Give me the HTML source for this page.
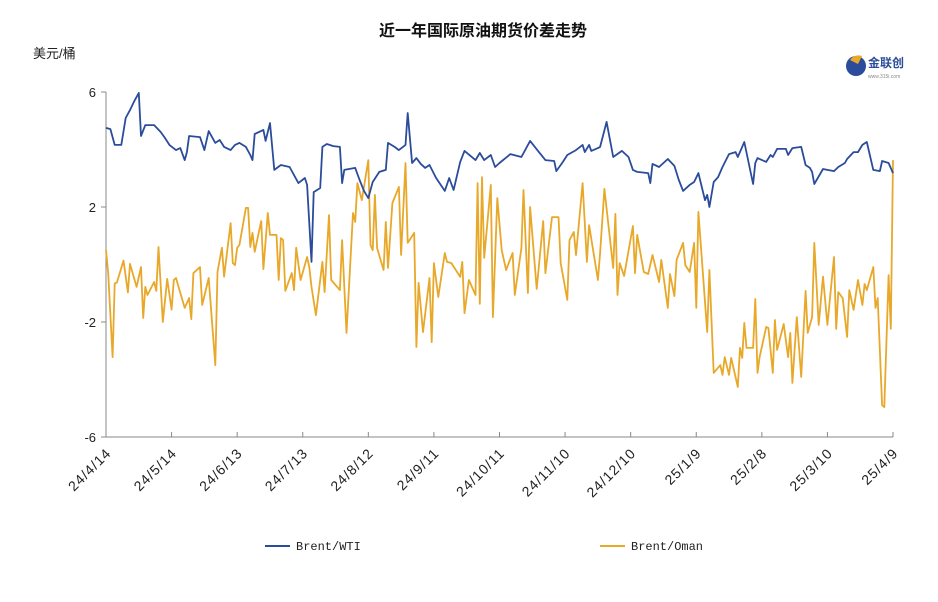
<!DOCTYPE html>
<html><head><meta charset="utf-8">
<style>
html,body{margin:0;padding:0;background:#fff;width:938px;height:602px;overflow:hidden}
svg{display:block;font-family:"Liberation Sans","Noto Sans CJK SC",sans-serif}
</style></head>
<body>
<svg id="chart" width="938" height="602">
  <text x="483" y="36" text-anchor="middle" font-size="16" font-weight="bold" fill="#111">近一年国际原油期货价差走势</text>
  <text x="33" y="58" font-size="13" fill="#222">美元/桶</text>
  <g>
    <circle cx="856" cy="66" r="10" fill="#2b4c9b"/>
    <path d="M850 60 a10 10 0 0 1 12 -4 l-4 8 z" fill="#e8a82a"/>
    <text x="868" y="67" font-size="12" font-weight="bold" fill="#2b4c9b">金联创</text>
    <text x="868" y="78" font-size="5" fill="#888">www.315i.com</text>
  </g>
  <g id="axes"></g>
  <g id="series"></g>
  <g>
    <g>
      <line x1="265" y1="546" x2="290" y2="546" stroke="#2b4c9b" stroke-width="2"/>
      <text x="296" y="550" font-size="12" font-family="Liberation Mono, monospace" fill="#222">Brent/WTI</text>
    </g>
    <g>
      <line x1="600" y1="546" x2="625" y2="546" stroke="#e8a82a" stroke-width="2"/>
      <text x="631" y="550" font-size="12" font-family="Liberation Mono, monospace" fill="#222">Brent/Oman</text>
    </g>
  </g>
</svg>
<script>
const tickLabels = ["24/4/14","24/5/14","24/6/13","24/7/13","24/8/12","24/9/11","24/10/11","24/11/10","24/12/10","25/1/9","25/2/8","25/3/10","25/4/9"];
const tickDays = [0,30,60,90,120,150,180,210,240,270,300,330,360];
const yTicks = [6,2,-2,-6];
const wtiDays = [0,2,4,7,9,11,13,15,16,18,22,25,27,29,32,34,36,37,38,43,45,47,50,52,54,57,59,61,64,66,67,68,72,73,75,77,80,84,88,91,92,94,95,98,99,101,104,107,108,109,114,116,118,120,122,125,128,129,132,134,137,138,140,142,144,146,148,151,155,157,159,162,164,169,171,173,176,178,180,185,190,194,198,201,205,206,209,211,215,218,219,221,222,225,226,229,232,236,239,241,243,248,249,250,253,257,260,262,264,267,269,271,274,275,276,278,280,282,285,288,289,291,292,296,297,298,302,304,305,307,311,312,314,318,320,322,323,324,328,330,333,335,338,339,342,344,346,348,351,354,355,358,360];
const wtiVals = [4.75,4.71,4.16,4.16,5.10,5.37,5.69,5.97,4.47,4.85,4.85,4.61,4.40,4.16,3.98,4.05,3.63,3.91,4.47,4.43,3.98,4.64,4.23,4.33,4.09,3.98,4.16,4.23,4.09,3.81,3.63,4.54,4.68,4.30,4.92,3.29,3.46,3.39,2.83,3.01,2.77,0.09,2.52,2.66,4.09,4.19,4.12,4.09,2.83,3.29,3.36,2.94,2.56,2.31,2.87,3.22,3.29,4.23,4.09,3.98,4.16,5.27,3.53,3.70,3.50,3.36,3.46,3.01,2.56,3.01,2.59,3.57,3.95,3.63,3.88,3.63,3.81,3.39,3.53,3.84,3.74,4.30,3.91,3.63,3.60,3.25,3.57,3.81,3.98,4.16,3.91,4.16,3.95,4.05,4.09,4.96,3.74,3.95,3.74,3.29,3.22,3.18,2.83,3.50,3.39,3.67,3.43,2.94,2.56,2.77,2.87,3.18,2.24,2.42,2.00,2.87,3.04,3.39,3.84,3.91,3.74,4.09,4.26,2.80,3.53,3.70,3.57,3.81,3.74,4.02,4.02,3.81,4.05,4.09,3.46,3.36,3.22,2.80,3.32,3.29,3.25,3.39,3.53,3.67,3.91,3.91,4.16,4.26,3.29,3.25,3.60,3.53,3.18];
const omanDays = [0,1,3,4,5,8,10,11,14,16,17,18,19,22,23,24,26,28,30,31,32,36,38,39,40,43,44,47,50,51,53,54,57,58,59,60,61,64,65,66,67,68,71,72,74,75,78,79,80,81,82,85,86,87,89,92,93,94,96,99,100,102,103,107,108,110,113,114,115,117,120,121,122,123,124,127,128,129,131,134,135,137,138,141,142,143,145,148,149,150,152,155,156,158,162,163,164,166,169,170,171,172,173,176,177,179,181,183,186,187,190,191,193,194,197,200,201,204,207,208,211,212,214,215,218,220,221,225,226,228,232,233,234,235,237,241,242,243,246,248,250,253,254,257,258,260,261,264,265,267,269,270,271,275,276,278,281,282,283,285,286,289,290,291,292,293,296,297,298,299,302,303,305,306,307,310,312,313,314,316,318,320,321,323,324,326,328,330,333,334,335,337,339,340,342,344,346,347,348,351,352,353,355,356,358,359,360];
const omanVals = [0.50,-0.30,-3.22,-0.66,-0.63,0.14,-0.97,0.02,-0.78,-0.09,-1.86,-0.78,-1.06,-0.61,-0.92,0.61,-2.00,-0.50,-1.57,-0.54,-0.47,-1.51,-1.17,-1.90,-0.30,-0.09,-1.41,-0.47,-3.50,-0.26,0.58,-0.42,1.44,0.05,-0.02,0.58,0.68,1.97,1.97,0.61,1.10,0.44,1.51,-0.16,1.79,1.03,1.03,-0.54,0.92,0.85,-0.92,-0.30,-0.89,0.58,-0.54,0.26,-0.09,-0.78,-1.76,0.09,-0.96,1.72,-0.54,-0.89,0.85,-2.38,1.79,1.48,2.83,2.24,3.63,0.68,0.50,2.42,0.57,-0.19,1.48,-0.12,2.14,2.70,0.33,3.53,0.75,1.10,-2.87,-0.64,-2.35,-0.47,-2.70,0.05,-1.13,0.40,0.09,0.05,-0.43,0.09,-1.69,-0.54,-1.06,2.83,-1.37,3.04,0.23,2.77,-1.83,2.31,0.50,-0.19,0.40,-1.06,0.57,2.59,-0.99,2.00,-0.85,1.51,-0.30,1.65,1.65,0.05,-1.23,0.85,1.13,0.33,2.83,0.09,1.37,-0.54,0.40,2.63,-0.12,1.76,-1.06,0.05,-0.40,1.34,-0.30,1.03,-0.26,-0.33,0.33,-0.61,0.16,-1.51,-0.33,-1.10,0.16,0.75,-0.02,-0.26,0.75,-1.51,1.83,-2.35,-0.19,-3.77,-3.50,-3.84,-3.22,-3.84,-3.25,-4.26,-2.90,-3.25,-2.03,-2.90,-2.90,-1.20,-3.77,-3.22,-2.17,-2.21,-3.77,-1.93,-2.97,-2.07,-3.22,-2.38,-4.12,-1.83,-3.91,-0.92,-2.38,-1.83,0.75,-2.10,-0.42,-2.10,0.26,-2.24,-0.96,-1.17,-2.52,-0.89,-1.58,-0.54,-1.41,-0.68,-0.89,-0.09,-1.51,-1.17,-4.89,-4.96,-0.37,-2.24,3.63];

const X0=106, X1=893, Y0=92, Y1=437, D0=0, D1=360, V0=-6, V1=6;
const xs = d => X0 + (d-D0)/(D1-D0)*(X1-X0);
const ys = v => Y1 - (v-V0)/(V1-V0)*(Y1-Y0);
const NS="http://www.w3.org/2000/svg";
function mk(tag, attrs, parent){const e=document.createElementNS(NS,tag);for(const k in attrs)e.setAttribute(k,attrs[k]);parent.appendChild(e);return e;}
const axes=document.getElementById('axes');
const ya=mk('line',{x1:X0,y1:Y0,x2:X0,y2:Y1,stroke:'#888','stroke-width':1},axes);


const xa=mk('line',{x1:X0,y1:Y1,x2:X1,y2:Y1,stroke:'#888','stroke-width':1},axes);


yTicks.forEach(v=>{
  const y=ys(v);
  const t=mk('line',{x1:X0-5,y1:y,x2:X0,y2:y,stroke:'#888'},axes);
  
  
  const l=mk('text',{x:X0-10,y:y+5,'text-anchor':'end','font-size':13,fill:'#222'},axes);
  l.textContent=v;
  
  
});
tickDays.forEach((d,i)=>{
  const x=xs(d);
  const t=mk('line',{x1:x,y1:Y1-5,x2:x,y2:Y1,stroke:'#888'},axes);
  
  
  const ax=x+6, ay=Y1+17;
  const l=mk('text',{x:ax,y:ay,'text-anchor':'end','font-size':14,'letter-spacing':1,fill:'#222',transform:`rotate(-45 ${ax} ${ay})`},axes);
  l.textContent=tickLabels[i];
  
  
});
const series=document.getElementById('series');
function line(days,vals,color,name){
  const pts=days.map((d,i)=>xs(d).toFixed(1)+','+ys(vals[i]).toFixed(1)).join(' ');
  const p=mk('polyline',{points:pts,fill:'none',stroke:color,'stroke-width':1.8,'stroke-linejoin':'round'},series);
  
  
}
line(omanDays,omanVals,'#e8a82a','brent-oman-line');
line(wtiDays,wtiVals,'#2b4c9b','brent-wti-line');
</script>
</body></html>
